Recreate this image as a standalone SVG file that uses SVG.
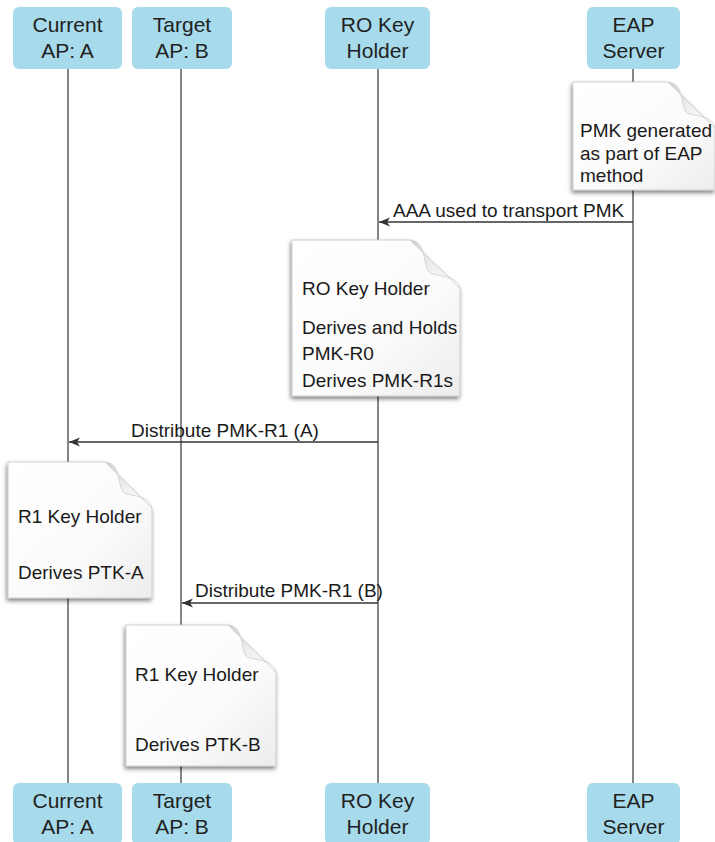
<svg xmlns="http://www.w3.org/2000/svg" width="715" height="842" viewBox="0 0 715 842">
  <style>
    .box { fill: #a7dbeb; }
    .boxtxt { font-family: "Liberation Sans", Arial, sans-serif; font-size: 21px; fill: #222; text-anchor: middle; }
    .txt { font-family: "Liberation Sans", Arial, sans-serif; font-size: 19px; fill: #1a1a1a; }
    .life { stroke: #444; stroke-width: 1.3; fill: none; }
    .msg { stroke: #333; stroke-width: 1.4; fill: none; marker-end: url(#arrow); }
    .page { fill: url(#pageFill); stroke: #c4c4c4; stroke-width: 0.8; filter: url(#shadow); }
    .flap { fill: url(#flapFill); stroke: #cfcfcf; stroke-width: 0.8; }
  </style>
  <defs>
    <marker id="arrow" viewBox="-12 -5 13 10" refX="0" refY="0" markerWidth="13" markerHeight="10" markerUnits="userSpaceOnUse" orient="auto">
      <path d="M0,0 L-11,-4.5 L-8,0 L-11,4.5 Z" fill="#333"/>
    </marker>
    <linearGradient id="pageFill" x1="0" y1="0" x2="1" y2="1">
      <stop offset="0" stop-color="#ffffff"/>
      <stop offset="0.6" stop-color="#fbfbfb"/>
      <stop offset="1" stop-color="#ececec"/>
    </linearGradient>
    <linearGradient id="flapFill" x1="0" y1="0" x2="1" y2="1">
      <stop offset="0" stop-color="#d2d2d2"/>
      <stop offset="0.5" stop-color="#efefef"/>
      <stop offset="1" stop-color="#ffffff"/>
    </linearGradient>
    <filter id="shadow" x="-10%" y="-10%" width="125%" height="125%">
      <feDropShadow dx="-1" dy="2.5" stdDeviation="2" flood-color="#000" flood-opacity="0.5"/>
    </filter>
  </defs>

  <!-- lifelines and messages -->
  <g id="connectors">
    <line class="life" x1="68" y1="69" x2="68" y2="783"/>
    <line class="life" x1="181" y1="69" x2="181" y2="783"/>
    <line class="life" x1="378" y1="69" x2="378" y2="783"/>
    <line class="life" x1="633" y1="69" x2="633" y2="783"/>

    <line class="msg" x1="633" y1="222" x2="379" y2="222"/>
    <text class="txt" x="393" y="217">AAA used to transport PMK</text>

    <line class="msg" x1="378" y1="442" x2="69" y2="442"/>
    <text class="txt" x="131" y="437">Distribute PMK-R1 (A)</text>

    <line class="msg" x1="378" y1="603" x2="182" y2="603"/>
    <text class="txt" x="195" y="597">Distribute PMK-R1 (B)</text>
  </g>

  <!-- participant heads -->
  <g id="head-current">
    <rect class="box" x="13" y="7" width="109" height="62" rx="6"/>
    <text class="boxtxt" x="67.5" y="32">Current</text>
    <text class="boxtxt" x="67.5" y="58">AP: A</text>
  </g>
  <g id="head-target">
    <rect class="box" x="132" y="7" width="100" height="62" rx="6"/>
    <text class="boxtxt" x="182" y="32">Target</text>
    <text class="boxtxt" x="182" y="58">AP: B</text>
  </g>
  <g id="head-ro">
    <rect class="box" x="325" y="7" width="105" height="62" rx="6"/>
    <text class="boxtxt" x="377.5" y="32">RO Key</text>
    <text class="boxtxt" x="377.5" y="58">Holder</text>
  </g>
  <g id="head-eap">
    <rect class="box" x="587" y="7" width="93" height="62" rx="6"/>
    <text class="boxtxt" x="633.5" y="32">EAP</text>
    <text class="boxtxt" x="633.5" y="58">Server</text>
  </g>

  <!-- participant feet -->
  <g id="foot-current">
    <rect class="box" x="13" y="783" width="109" height="62" rx="6"/>
    <text class="boxtxt" x="67.5" y="808">Current</text>
    <text class="boxtxt" x="67.5" y="834">AP: A</text>
  </g>
  <g id="foot-target">
    <rect class="box" x="132" y="783" width="100" height="62" rx="6"/>
    <text class="boxtxt" x="182" y="808">Target</text>
    <text class="boxtxt" x="182" y="834">AP: B</text>
  </g>
  <g id="foot-ro">
    <rect class="box" x="325" y="783" width="105" height="62" rx="6"/>
    <text class="boxtxt" x="377.5" y="808">RO Key</text>
    <text class="boxtxt" x="377.5" y="834">Holder</text>
  </g>
  <g id="foot-eap">
    <rect class="box" x="587" y="783" width="93" height="62" rx="6"/>
    <text class="boxtxt" x="633.5" y="808">EAP</text>
    <text class="boxtxt" x="633.5" y="834">Server</text>
  </g>

  <!-- notes (page with curled corner) -->
  <g id="note-pmk">
    <path class="page" d="M573,82 H668 L715,128 V190 H573 Z"/>
    <path class="flap" d="M668,82 C687,83 678,112 690,114 C700,117 712,116 715,128 Z"/>
    <text class="txt" x="580" y="137">PMK generated</text>
    <text class="txt" x="580" y="160">as part of EAP</text>
    <text class="txt" x="580" y="182">method</text>
  </g>

  <g id="note-ro">
    <path class="page" d="M292,240 H410 L460,288 V396 H292 Z"/>
    <path class="flap" d="M410,240 C430,241 420,272 433,274 C444,277 457,276 460,288 Z"/>
    <text class="txt" x="302" y="295">RO Key Holder</text>
    <text class="txt" x="302" y="334">Derives and Holds</text>
    <text class="txt" x="302" y="360">PMK-R0</text>
    <text class="txt" x="302" y="387">Derives PMK-R1s</text>
  </g>

  <g id="note-r1a">
    <path class="page" d="M8,462 H105 L152,508 V598 H8 Z"/>
    <path class="flap" d="M105,462 C124,463 115,492 127,494 C138,497 149,496 152,508 Z"/>
    <text class="txt" x="18" y="523">R1 Key Holder</text>
    <text class="txt" x="18" y="579">Derives PTK-A</text>
  </g>

  <g id="note-r1b">
    <path class="page" d="M126,625 H228 L276,672 V766 H126 Z"/>
    <path class="flap" d="M228,625 C247,626 238,656 250,658 C262,661 273,660 276,672 Z"/>
    <text class="txt" x="135" y="681">R1 Key Holder</text>
    <text class="txt" x="135" y="751">Derives PTK-B</text>
  </g>
</svg>
